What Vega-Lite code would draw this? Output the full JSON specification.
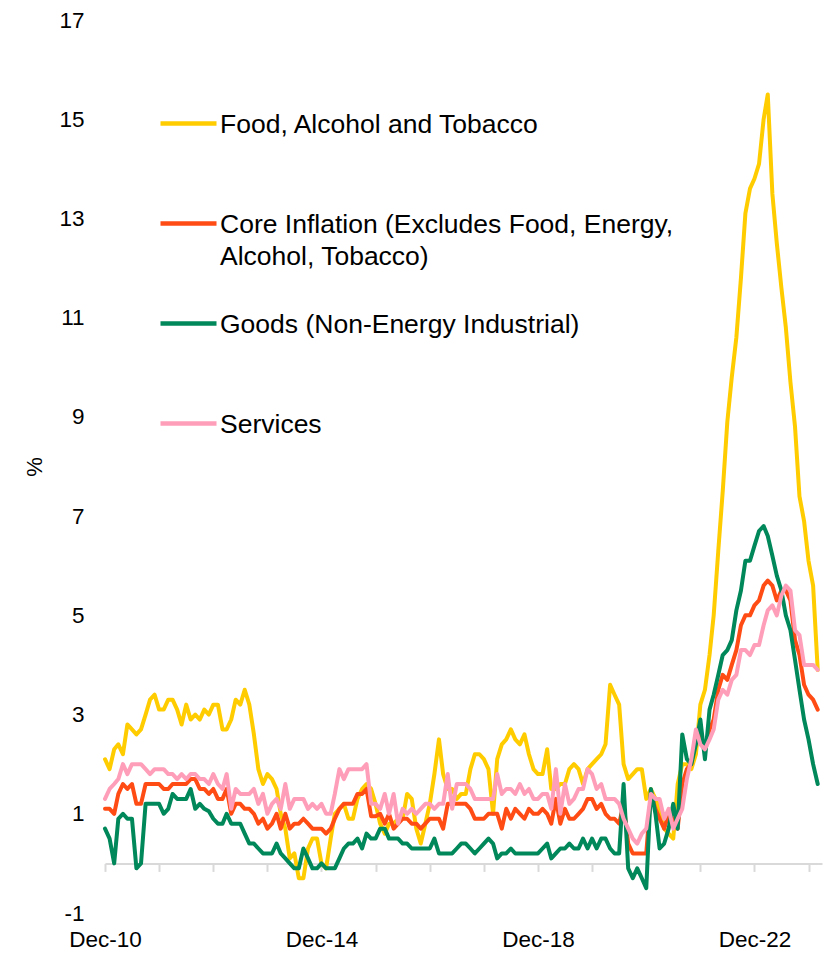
{
 "$schema": "https://vega.github.io/schema/vega-lite/v6.json",
 "width": 717, "height": 893,
 "autosize": {"type": "none"},
 "padding": {"left": 105, "top": 20, "right": 3, "bottom": 40},
 "background": "white",
 "config": {"view": {"stroke": null}, "font": "Liberation Sans"},
 "data": {"values": [
{"d":"2010-12-01","food":2.1,"core":1.1,"goods":0.7,"services":1.3},
{"d":"2011-01-01","food":1.9,"core":1.1,"goods":0.5,"services":1.5},
{"d":"2011-02-01","food":2.3,"core":1.0,"goods":0.0,"services":1.6},
{"d":"2011-03-01","food":2.4,"core":1.4,"goods":0.9,"services":1.7},
{"d":"2011-04-01","food":2.2,"core":1.6,"goods":1.0,"services":2.0},
{"d":"2011-05-01","food":2.8,"core":1.5,"goods":0.9,"services":1.8},
{"d":"2011-06-01","food":2.7,"core":1.6,"goods":0.9,"services":2.0},
{"d":"2011-07-01","food":2.6,"core":1.2,"goods":-0.1,"services":2.0},
{"d":"2011-08-01","food":2.7,"core":1.2,"goods":0.0,"services":2.0},
{"d":"2011-09-01","food":3.0,"core":1.6,"goods":1.2,"services":1.9},
{"d":"2011-10-01","food":3.3,"core":1.6,"goods":1.2,"services":1.8},
{"d":"2011-11-01","food":3.4,"core":1.6,"goods":1.2,"services":1.9},
{"d":"2011-12-01","food":3.1,"core":1.6,"goods":1.2,"services":1.9},
{"d":"2012-01-01","food":3.1,"core":1.5,"goods":1.0,"services":1.9},
{"d":"2012-02-01","food":3.3,"core":1.5,"goods":1.1,"services":1.8},
{"d":"2012-03-01","food":3.3,"core":1.6,"goods":1.4,"services":1.8},
{"d":"2012-04-01","food":3.1,"core":1.6,"goods":1.3,"services":1.7},
{"d":"2012-05-01","food":2.8,"core":1.6,"goods":1.3,"services":1.8},
{"d":"2012-06-01","food":3.2,"core":1.6,"goods":1.3,"services":1.7},
{"d":"2012-07-01","food":2.9,"core":1.7,"goods":1.5,"services":1.8},
{"d":"2012-08-01","food":3.0,"core":1.7,"goods":1.1,"services":1.8},
{"d":"2012-09-01","food":2.9,"core":1.5,"goods":1.2,"services":1.7},
{"d":"2012-10-01","food":3.1,"core":1.5,"goods":1.1,"services":1.7},
{"d":"2012-11-01","food":3.0,"core":1.4,"goods":1.05,"services":1.6},
{"d":"2012-12-01","food":3.2,"core":1.5,"goods":0.9,"services":1.8},
{"d":"2013-01-01","food":3.2,"core":1.3,"goods":0.8,"services":1.6},
{"d":"2013-02-01","food":2.7,"core":1.3,"goods":0.8,"services":1.5},
{"d":"2013-03-01","food":2.7,"core":1.5,"goods":1.0,"services":1.8},
{"d":"2013-04-01","food":2.9,"core":1.0,"goods":0.8,"services":1.1},
{"d":"2013-05-01","food":3.3,"core":1.2,"goods":0.8,"services":1.5},
{"d":"2013-06-01","food":3.2,"core":1.2,"goods":0.8,"services":1.4},
{"d":"2013-07-01","food":3.5,"core":1.1,"goods":0.6,"services":1.4},
{"d":"2013-08-01","food":3.2,"core":1.1,"goods":0.4,"services":1.4},
{"d":"2013-09-01","food":2.6,"core":1.0,"goods":0.4,"services":1.5},
{"d":"2013-10-01","food":1.9,"core":0.8,"goods":0.3,"services":1.2},
{"d":"2013-11-01","food":1.6,"core":0.9,"goods":0.2,"services":1.4},
{"d":"2013-12-01","food":1.8,"core":0.7,"goods":0.2,"services":1.0},
{"d":"2014-01-01","food":1.7,"core":0.8,"goods":0.2,"services":1.2},
{"d":"2014-02-01","food":1.5,"core":1.0,"goods":0.4,"services":1.3},
{"d":"2014-03-01","food":1.0,"core":0.7,"goods":0.2,"services":1.1},
{"d":"2014-04-01","food":0.7,"core":1.0,"goods":0.1,"services":1.6},
{"d":"2014-05-01","food":0.1,"core":0.7,"goods":0.0,"services":1.1},
{"d":"2014-06-01","food":0.2,"core":0.8,"goods":-0.1,"services":1.3},
{"d":"2014-07-01","food":-0.3,"core":0.8,"goods":-0.1,"services":1.3},
{"d":"2014-08-01","food":-0.3,"core":0.9,"goods":0.3,"services":1.3},
{"d":"2014-09-01","food":0.3,"core":0.8,"goods":0.1,"services":1.1},
{"d":"2014-10-01","food":0.5,"core":0.7,"goods":-0.1,"services":1.2},
{"d":"2014-11-01","food":0.5,"core":0.7,"goods":-0.1,"services":1.1},
{"d":"2014-12-01","food":0.0,"core":0.7,"goods":0.0,"services":1.2},
{"d":"2015-01-01","food":-0.1,"core":0.6,"goods":-0.1,"services":1.0},
{"d":"2015-02-01","food":0.5,"core":0.7,"goods":-0.1,"services":1.0},
{"d":"2015-03-01","food":1.0,"core":0.9,"goods":-0.1,"services":1.4},
{"d":"2015-04-01","food":1.1,"core":1.1,"goods":0.1,"services":1.9},
{"d":"2015-05-01","food":1.2,"core":1.2,"goods":0.3,"services":1.7},
{"d":"2015-06-01","food":0.9,"core":1.2,"goods":0.4,"services":1.9},
{"d":"2015-07-01","food":0.9,"core":1.2,"goods":0.4,"services":1.9},
{"d":"2015-08-01","food":1.3,"core":1.4,"goods":0.5,"services":1.9},
{"d":"2015-09-01","food":1.5,"core":1.4,"goods":0.3,"services":1.9},
{"d":"2015-10-01","food":1.6,"core":1.5,"goods":0.6,"services":2.0},
{"d":"2015-11-01","food":1.5,"core":0.95,"goods":0.5,"services":1.2},
{"d":"2015-12-01","food":1.2,"core":0.95,"goods":0.5,"services":1.2},
{"d":"2016-01-01","food":0.8,"core":1.0,"goods":0.7,"services":1.1},
{"d":"2016-02-01","food":0.6,"core":0.8,"goods":0.7,"services":1.4},
{"d":"2016-03-01","food":0.8,"core":1.0,"goods":0.5,"services":1.0},
{"d":"2016-04-01","food":0.8,"core":0.7,"goods":0.5,"services":1.4},
{"d":"2016-05-01","food":0.9,"core":0.8,"goods":0.5,"services":0.8},
{"d":"2016-06-01","food":0.9,"core":0.9,"goods":0.4,"services":1.1},
{"d":"2016-07-01","food":1.4,"core":0.9,"goods":0.4,"services":1.0},
{"d":"2016-08-01","food":1.3,"core":0.8,"goods":0.3,"services":1.1},
{"d":"2016-09-01","food":0.7,"core":0.8,"goods":0.3,"services":1.0},
{"d":"2016-10-01","food":0.4,"core":0.7,"goods":0.3,"services":1.1},
{"d":"2016-11-01","food":0.8,"core":0.8,"goods":0.3,"services":1.2},
{"d":"2016-12-01","food":1.2,"core":0.9,"goods":0.3,"services":1.2},
{"d":"2017-01-01","food":1.8,"core":0.9,"goods":0.5,"services":1.1},
{"d":"2017-02-01","food":2.5,"core":0.9,"goods":0.2,"services":1.2},
{"d":"2017-03-01","food":1.8,"core":0.7,"goods":0.2,"services":1.2},
{"d":"2017-04-01","food":1.5,"core":1.2,"goods":0.2,"services":1.8},
{"d":"2017-05-01","food":1.5,"core":1.2,"goods":0.2,"services":1.1},
{"d":"2017-06-01","food":1.3,"core":1.2,"goods":0.3,"services":1.6},
{"d":"2017-07-01","food":1.4,"core":1.2,"goods":0.4,"services":1.6},
{"d":"2017-08-01","food":1.4,"core":1.2,"goods":0.4,"services":1.6},
{"d":"2017-09-01","food":1.9,"core":1.1,"goods":0.3,"services":1.5},
{"d":"2017-10-01","food":2.2,"core":0.9,"goods":0.2,"services":1.3},
{"d":"2017-11-01","food":2.2,"core":0.9,"goods":0.3,"services":1.3},
{"d":"2017-12-01","food":2.1,"core":0.9,"goods":0.4,"services":1.3},
{"d":"2018-01-01","food":1.9,"core":1.0,"goods":0.5,"services":1.3},
{"d":"2018-02-01","food":1.0,"core":1.0,"goods":0.4,"services":1.3},
{"d":"2018-03-01","food":2.1,"core":1.0,"goods":0.1,"services":1.8},
{"d":"2018-04-01","food":2.4,"core":0.7,"goods":0.2,"services":1.4},
{"d":"2018-05-01","food":2.5,"core":1.1,"goods":0.2,"services":1.5},
{"d":"2018-06-01","food":2.7,"core":0.9,"goods":0.3,"services":1.5},
{"d":"2018-07-01","food":2.5,"core":1.1,"goods":0.2,"services":1.4},
{"d":"2018-08-01","food":2.4,"core":1.0,"goods":0.2,"services":1.6},
{"d":"2018-09-01","food":2.6,"core":0.9,"goods":0.2,"services":1.4},
{"d":"2018-10-01","food":2.2,"core":1.1,"goods":0.2,"services":1.5},
{"d":"2018-11-01","food":1.9,"core":1.0,"goods":0.2,"services":1.3},
{"d":"2018-12-01","food":1.8,"core":1.0,"goods":0.2,"services":1.3},
{"d":"2019-01-01","food":1.8,"core":1.1,"goods":0.3,"services":1.4},
{"d":"2019-02-01","food":2.3,"core":1.0,"goods":0.4,"services":1.4},
{"d":"2019-03-01","food":1.5,"core":0.8,"goods":0.1,"services":1.1},
{"d":"2019-04-01","food":1.5,"core":1.3,"goods":0.2,"services":1.9},
{"d":"2019-05-01","food":1.6,"core":0.8,"goods":0.3,"services":1.0},
{"d":"2019-06-01","food":1.6,"core":1.1,"goods":0.3,"services":1.6},
{"d":"2019-07-01","food":1.9,"core":0.9,"goods":0.4,"services":1.2},
{"d":"2019-08-01","food":2.0,"core":0.9,"goods":0.3,"services":1.3},
{"d":"2019-09-01","food":1.9,"core":1.0,"goods":0.3,"services":1.5},
{"d":"2019-10-01","food":1.6,"core":1.1,"goods":0.5,"services":1.5},
{"d":"2019-11-01","food":1.9,"core":1.3,"goods":0.3,"services":1.9},
{"d":"2019-12-01","food":2.0,"core":1.3,"goods":0.5,"services":1.8},
{"d":"2020-01-01","food":2.1,"core":1.1,"goods":0.3,"services":1.5},
{"d":"2020-02-01","food":2.2,"core":1.2,"goods":0.5,"services":1.6},
{"d":"2020-03-01","food":2.4,"core":1.0,"goods":0.5,"services":1.3},
{"d":"2020-04-01","food":3.6,"core":0.9,"goods":0.3,"services":1.3},
{"d":"2020-05-01","food":3.4,"core":0.9,"goods":0.2,"services":1.3},
{"d":"2020-06-01","food":3.2,"core":0.8,"goods":0.2,"services":1.2},
{"d":"2020-07-01","food":2.0,"core":1.2,"goods":1.6,"services":0.9},
{"d":"2020-08-01","food":1.7,"core":0.4,"goods":-0.1,"services":0.7},
{"d":"2020-09-01","food":1.8,"core":0.2,"goods":-0.3,"services":0.5},
{"d":"2020-10-01","food":1.9,"core":0.2,"goods":-0.1,"services":0.4},
{"d":"2020-11-01","food":1.9,"core":0.2,"goods":-0.3,"services":0.6},
{"d":"2020-12-01","food":1.3,"core":0.2,"goods":-0.5,"services":0.7},
{"d":"2021-01-01","food":1.5,"core":1.4,"goods":1.5,"services":1.4},
{"d":"2021-02-01","food":1.3,"core":1.1,"goods":1.0,"services":1.3},
{"d":"2021-03-01","food":1.1,"core":0.9,"goods":0.3,"services":1.3},
{"d":"2021-04-01","food":0.7,"core":0.7,"goods":0.4,"services":0.9},
{"d":"2021-05-01","food":0.6,"core":1.0,"goods":0.7,"services":1.1},
{"d":"2021-06-01","food":0.5,"core":0.9,"goods":1.2,"services":0.7},
{"d":"2021-07-01","food":1.6,"core":0.7,"goods":0.7,"services":0.9},
{"d":"2021-08-01","food":2.0,"core":1.6,"goods":2.6,"services":1.1},
{"d":"2021-09-01","food":2.0,"core":1.9,"goods":2.1,"services":1.7},
{"d":"2021-10-01","food":1.9,"core":2.0,"goods":2.0,"services":2.1},
{"d":"2021-11-01","food":2.2,"core":2.6,"goods":2.4,"services":2.7},
{"d":"2021-12-01","food":3.2,"core":2.6,"goods":2.9,"services":2.4},
{"d":"2022-01-01","food":3.5,"core":2.3,"goods":2.1,"services":2.3},
{"d":"2022-02-01","food":4.2,"core":2.7,"goods":3.1,"services":2.5},
{"d":"2022-03-01","food":5.0,"core":2.9,"goods":3.4,"services":2.7},
{"d":"2022-04-01","food":6.3,"core":3.5,"goods":3.8,"services":3.3},
{"d":"2022-05-01","food":7.5,"core":3.8,"goods":4.2,"services":3.5},
{"d":"2022-06-01","food":8.9,"core":3.7,"goods":4.3,"services":3.4},
{"d":"2022-07-01","food":9.8,"core":4.0,"goods":4.5,"services":3.7},
{"d":"2022-08-01","food":10.6,"core":4.3,"goods":5.1,"services":3.8},
{"d":"2022-09-01","food":11.8,"core":4.8,"goods":5.5,"services":4.3},
{"d":"2022-10-01","food":13.1,"core":5.0,"goods":6.1,"services":4.3},
{"d":"2022-11-01","food":13.6,"core":5.0,"goods":6.1,"services":4.2},
{"d":"2022-12-01","food":13.8,"core":5.2,"goods":6.4,"services":4.4},
{"d":"2023-01-01","food":14.1,"core":5.3,"goods":6.7,"services":4.4},
{"d":"2023-02-01","food":15.0,"core":5.6,"goods":6.8,"services":4.8},
{"d":"2023-03-01","food":15.5,"core":5.7,"goods":6.6,"services":5.1},
{"d":"2023-04-01","food":13.5,"core":5.6,"goods":6.2,"services":5.2},
{"d":"2023-05-01","food":12.5,"core":5.3,"goods":5.8,"services":5.0},
{"d":"2023-06-01","food":11.6,"core":5.5,"goods":5.5,"services":5.4},
{"d":"2023-07-01","food":10.8,"core":5.5,"goods":5.0,"services":5.6},
{"d":"2023-08-01","food":9.7,"core":5.3,"goods":4.7,"services":5.5},
{"d":"2023-09-01","food":8.8,"core":4.5,"goods":4.1,"services":4.7},
{"d":"2023-10-01","food":7.4,"core":4.2,"goods":3.5,"services":4.6},
{"d":"2023-11-01","food":6.9,"core":3.6,"goods":2.9,"services":4.0},
{"d":"2023-12-01","food":6.1,"core":3.4,"goods":2.5,"services":4.0},
{"d":"2024-01-01","food":5.6,"core":3.3,"goods":2.0,"services":4.0},
{"d":"2024-02-01","food":3.9,"core":3.1,"goods":1.6,"services":3.9}
 ]},
 "transform": [{"fold": ["food", "core", "goods", "services"], "as": ["series", "value"]}],
 "mark": {"type": "line", "strokeWidth": 4, "strokeJoin": "round", "strokeCap": "round"},
 "encoding": {
  "x": {
   "field": "d", "type": "temporal",
   "scale": {"type": "utc", "domain": [{"year": 2010, "month": 12, "date": 1, "utc": true}, {"year": 2024, "month": 3, "date": 1, "utc": true}]},
   "axis": {
    "title": null, "grid": false, "zindex": 0,
    "values": [
     {"year": 2010, "month": 12, "date": 1, "utc": true}, {"year": 2011, "month": 12, "date": 1, "utc": true},
     {"year": 2012, "month": 12, "date": 1, "utc": true}, {"year": 2013, "month": 12, "date": 1, "utc": true},
     {"year": 2014, "month": 12, "date": 1, "utc": true}, {"year": 2015, "month": 12, "date": 1, "utc": true},
     {"year": 2016, "month": 12, "date": 1, "utc": true}, {"year": 2017, "month": 12, "date": 1, "utc": true},
     {"year": 2018, "month": 12, "date": 1, "utc": true}, {"year": 2019, "month": 12, "date": 1, "utc": true},
     {"year": 2020, "month": 12, "date": 1, "utc": true}, {"year": 2021, "month": 12, "date": 1, "utc": true},
     {"year": 2022, "month": 12, "date": 1, "utc": true}, {"year": 2023, "month": 12, "date": 1, "utc": true}
    ],
    "labelExpr": "(utcyear(datum.value) - 2010) % 4 == 0 ? utcFormat(datum.value, '%b-%y') : ''",
    "offset": -49.6,
    "domainColor": "#d9d9d9", "domainWidth": 2,
    "tickColor": "#d9d9d9", "tickWidth": 2, "tickSize": 8,
    "labelFontSize": 22.5, "labelColor": "#000000", "labelPadding": 57,
    "labelBaseline": "top", "labelFlush": false, "labelOverlap": false
   }
  },
  "y": {
   "field": "value", "type": "quantitative",
   "scale": {"domain": [-1, 17], "nice": false, "zero": false},
   "axis": {
    "values": [-1, 1, 3, 5, 7, 9, 11, 13, 15, 17],
    "labelExpr": "'' + datum.value",
    "domain": false, "ticks": false, "grid": false,
    "labelFontSize": 22.5, "labelColor": "#000000", "labelPadding": 21,
    "title": "%", "titleFontSize": 22, "titleFontWeight": "normal", "titleColor": "#000000", "titlePadding": 12
   }
  },
  "color": {
   "field": "series", "type": "nominal",
   "scale": {"domain": ["food", "core", "goods", "services"], "range": ["#FFCC00", "#FF4B14", "#00875A", "#FF9EB9"]},
   "legend": {
    "orient": "none", "legendX": 53, "legendY": 73, "title": null, "padding": 0,
    "symbolType": "stroke", "symbolSize": 3136, "symbolStrokeWidth": 4.5,
    "labelFontSize": 26.5, "labelColor": "#000000", "labelOffset": 1, "labelLimit": 700,
    "labelBaseline": "top", "gridAlign": "all", "rowPadding": 23,
    "labelExpr": "datum.value == 'food' ? 'Food, Alcohol and Tobacco' : datum.value == 'core' ? ['Core Inflation (Excludes Food, Energy,', 'Alcohol, Tobacco)'] : datum.value == 'goods' ? 'Goods (Non-Energy Industrial)' : 'Services'",
    "encode": {"labels": {"update": {"dy": {"value": -12}, "lineHeight": {"value": 32}}}}
   }
  }
 }
}
